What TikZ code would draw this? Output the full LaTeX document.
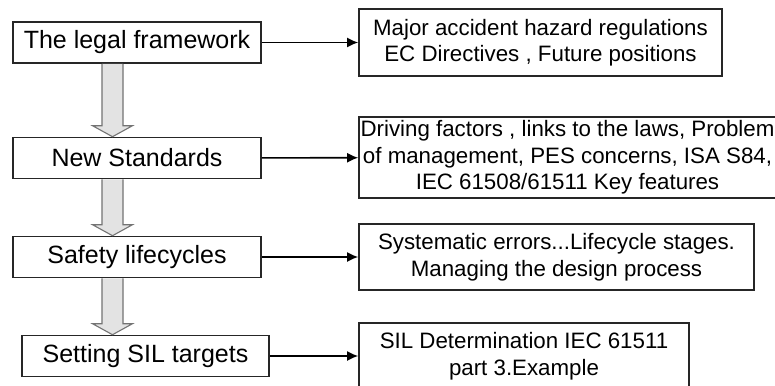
\documentclass[tikz,border=0pt]{standalone}
\usepackage{fontspec}
\setmainfont{Liberation Sans}
\usetikzlibrary{calc,arrows.meta}
\begin{document}
\begin{tikzpicture}[x=1pt,y=-1pt,
  leftbox/.style={draw=black!85,line width=1.6pt,fill=white,inner sep=0pt,
    minimum width=248pt,minimum height=41pt,font=\fontsize{25}{30}\selectfont},
  rightbox/.style={draw=black!85,line width=1.6pt,fill=white,inner sep=0pt,
    align=center,font=\fontsize{22.3}{26.5}\selectfont},
  link/.style={line width=1.6pt,-{Latex[length=11pt,width=10pt]}},
  blockarrow/.style={fill=black!11,draw=black!55,line width=1.1pt,line join=miter}]
\useasboundingbox (0,0) rectangle (775,385);
\clip (0,0) rectangle (775,385);
\fill[white] (0,0) rectangle (775,385);
\coordinate (ax) at (112.5,0);
% block arrows
\newcommand{\blockarr}[2]{%
  \filldraw[blockarrow]
    ($(#1.south -| ax)+(-10.5,0)$) --
    ($(#2.north -| ax)+(-10.5,-11)$) --
    ($(#2.north -| ax)+(-20,-11)$) --
    (#2.north -| ax) --
    ($(#2.north -| ax)+(20,-11)$) --
    ($(#2.north -| ax)+(10.5,-11)$) --
    ($(#1.south -| ax)+(10.5,0)$);}
% left boxes
\node[leftbox] (l1) at (137,42.5) {The legal framework};
\node[leftbox] (l2) at (137,158) {New Standards};
\node[leftbox] (l3) at (137,257) {Safety lifecycles};
\node[leftbox,minimum width=247pt] (l4) at (145.5,356) {Setting SIL targets};
\blockarr{l1}{l2}
\blockarr{l2}{l3}
\blockarr{l3}{l4}
% right boxes
\node[rightbox,minimum width=363pt,minimum height=67pt] (r1) at (540.5,42.5)
  {Major accident hazard regulations\\EC Directives , Future positions};
\node[rightbox,minimum width=417pt,minimum height=81pt] (r2) at (567.5,157.5)
  {Driving factors , links to the laws, Problem\\of management, PES concerns, ISA S84,\\IEC 61508/61511 Key features};
\node[rightbox,minimum width=395pt,minimum height=66pt] (r3) at (556.5,257)
  {Systematic errors...Lifecycle stages.\\Managing the design process};
\node[rightbox,minimum width=330pt,minimum height=66pt] (r4) at (524,356)
  {SIL Determination IEC 61511\\part 3.Example};
% connectors
\draw[link] (l1) -- (r1);
\draw[link] (l2) -- (r2);
\draw[link] (l3) -- (r3);
\draw[link] (l4) -- (r4);
\end{tikzpicture}
\end{document}
